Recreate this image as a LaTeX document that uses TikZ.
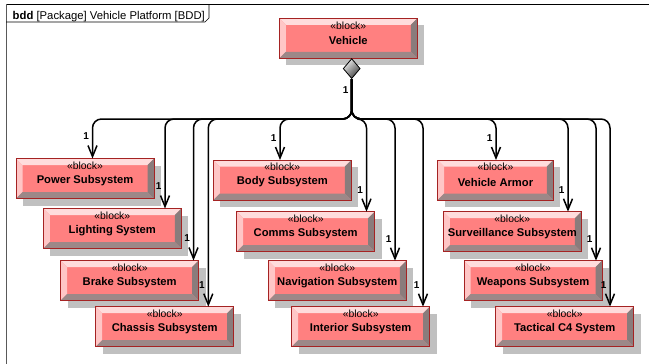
\documentclass[tikz,border=0pt]{standalone}
\usepackage{fontspec}
\setmainfont{Liberation Sans}
\usetikzlibrary{arrows.meta,shapes.geometric,shadows}

\definecolor{blkface}{RGB}{255,128,128}
\definecolor{blkborder}{RGB}{165,35,35}
\definecolor{bevtop}{RGB}{255,220,220}
\definecolor{bevleft}{RGB}{255,198,198}
\definecolor{bevright}{RGB}{138,124,124}
\definecolor{bevbottom}{RGB}{156,136,136}
\definecolor{blkshadow}{RGB}{192,192,192}

\newcommand\bevw{6.5pt}

\tikzset{
  blk/.style={draw=blkborder, line width=0.8pt, fill=blkface,
    minimum width=#1, minimum height=40pt, inner sep=0pt, outer sep=0pt,
    anchor=north west,
    drop shadow={shadow xshift=7pt, shadow yshift=-7pt, fill=blkshadow, opacity=1},
    path picture={
      \coordinate (bv-nw) at (path picture bounding box.north west);
      \coordinate (bv-ne) at (path picture bounding box.north east);
      \coordinate (bv-sw) at (path picture bounding box.south west);
      \coordinate (bv-se) at (path picture bounding box.south east);
      \fill[bevtop] (bv-nw) -- (bv-ne) -- ([shift={(-\bevw,-\bevw)}]bv-ne)
        -- ([shift={(\bevw,-\bevw)}]bv-nw) -- cycle;
      \fill[bevleft] (bv-nw) -- ([shift={(\bevw,-\bevw)}]bv-nw)
        -- ([shift={(\bevw,\bevw)}]bv-sw) -- (bv-sw) -- cycle;
      \fill[bevright] (bv-ne) -- (bv-se) -- ([shift={(-\bevw,\bevw)}]bv-se)
        -- ([shift={(-\bevw,-\bevw)}]bv-ne) -- cycle;
      \fill[bevbottom] (bv-sw) -- ([shift={(\bevw,\bevw)}]bv-sw)
        -- ([shift={(-\bevw,\bevw)}]bv-se) -- (bv-se) -- cycle;
    }},
  blk/.default=138pt,
  stereo/.style={inner sep=0pt, font=\fontsize{10.4}{12}\selectfont},
  bname/.style={inner sep=0pt, font=\bfseries\fontsize{11.2}{13}\selectfont},
  mult/.style={inner sep=0pt, font=\bfseries\fontsize{10}{11}\selectfont},
  conn/.style={draw=black, line width=1.5pt, rounded corners=9pt,
    -{Straight Barb[length=11pt,width=9pt]}},
  compdia/.style={diamond, draw=black, line width=0.8pt, inner sep=0pt,
    minimum width=17pt, minimum height=20pt,
    top color=gray!15, bottom color=black!75, shading angle=45},
}

% a block: name, left x, top y, title (optional width)
\newcommand\sysblock[5][138pt]{%
  \node[blk=#1] (#2) at (#3,#4) {};
  \node[stereo] (#2-st) at ([yshift=-7pt]#2.north) {«block»};
  \node[bname] (#2-nm) at ([yshift=-22pt]#2.north) {#5};
}

% composition branch: target block, offset of the arrow from its left edge
\newcommand\branch[2]{%
  \draw[conn] (dia.south) -- (bus) -| ([xshift=#2]#1.north west)
    node[mult, at end, xshift=-6.3pt, yshift=22pt] (#1-m) {1};
}

\begin{document}
\begin{tikzpicture}[x=1pt,y=-1pt]
  \useasboundingbox (0,0) rectangle (649,364);

  % diagram frame and its name tab
  \draw[black, line width=0.8pt] (6,4) -- (649,4);
  \draw[black!65, line width=1pt] (6,4) -- (6,364);
  \draw[black, line width=0.6pt] (6,22) -- (205,22) -- (209,18) -- (209,4);
  \node[anchor=base west, inner sep=0pt, font=\fontsize{11.3}{13}\selectfont]
    (hdr) at (12.5,19.3) {\textbf{bdd} [Package] Vehicle Platform [BDD]};

  % whole system
  \sysblock{veh}{279.3}{18.3}{Vehicle}
  \node[compdia] (dia) at (351.7,68.6) {};
  \node[mult] (dia-m) at ([xshift=-6pt,yshift=-10.7pt]dia.south) {1};
  \coordinate (bus) at (351.7,119);

  % parts, first column
  \sysblock{pw}{16}{158.5}{Power Subsystem}
  \sysblock{lt}{43.3}{208.5}{Lighting System}
  \sysblock{br}{60.7}{260.5}{Brake Subsystem}
  \sysblock{ch}{95.7}{306.7}{Chassis Subsystem}

  % parts, second column
  \sysblock{bd}{213.3}{160}{Body Subsystem}
  \sysblock{cm}{236.7}{211.7}{Comms Subsystem}
  \sysblock{nv}{268.3}{260.7}{Navigation Subsystem}
  \sysblock{intr}{291.7}{306.7}{Interior Subsystem}

  % parts, third column
  \sysblock[115.6pt]{ar}{437.7}{160}{Vehicle Armor}
  \sysblock{sv}{443.3}{211.7}{Surveillance Subsystem}
  \sysblock{wp}{464}{260.7}{Weapons Subsystem}
  \sysblock{tc}{495.7}{306.7}{Tactical C4 System}

  % composition connectors
  \branch{pw}{76.5pt}
  \branch{lt}{121.7pt}
  \branch{br}{132.8pt}
  \branch{ch}{112.6pt}
  \branch{bd}{66.7pt}
  \branch{cm}{129.8pt}
  \branch{nv}{126.7pt}
  \branch{intr}{131.3pt}
  \branch{ar}{58.3pt}
  \branch{sv}{124.7pt}
  \branch{wp}{132pt}
  \branch{tc}{114.3pt}
\end{tikzpicture}
\end{document}
